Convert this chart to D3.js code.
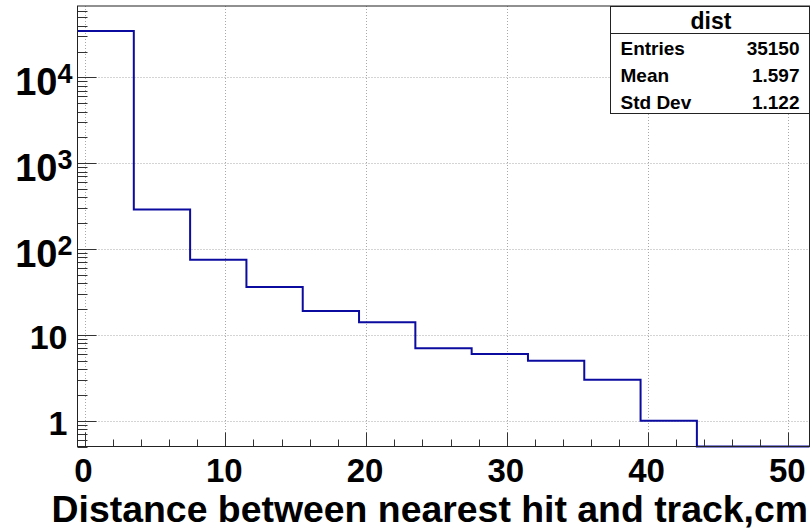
<!DOCTYPE html>
<html>
<head>
<meta charset="utf-8">
<script src="https://cdn.jsdelivr.net/npm/d3@7"></script>
<style>
  body { margin: 0; background: #fff; }
  svg { display: block; font-family: "Liberation Sans", Arial, Helvetica, sans-serif; font-weight: bold; }
</style>
</head>
<body>
<div id="graph-container"></div>
<script>

// histogram "dist": 13 bins of width 4 from -0.5 to 51.5
var bin_low = [-0.5, 3.5, 7.5, 11.5, 15.5, 19.5, 23.5, 27.5, 31.5, 35.5, 39.5, 43.5, 47.5];
var bin_width = 4;
var counts = [34696, 288, 75, 36, 19, 14, 7, 6, 5, 3, 1, 0, 0];

var x_ticks = [0, 10, 20, 30, 40, 50];
var x_minor = d3.range(0, 52, 2);
var y_decades = [0, 1, 2, 3, 4];   // 1, 10, 10^2, 10^3, 10^4

var stats_title = 'dist';
var stats_names = ['Entries', 'Mean', 'Std Dev'];
var stats_values = ['35150', '1.597', '1.122'];

var x_title = 'Distance between nearest hit and track,cm';

/////////////////////////////////////////////////////////////////////////////
                      ///////    Set Up Chart    ///////
/////////////////////////////////////////////////////////////////////////////

var W = 811, H = 530;
var frame = {left: 77.5, right: 809.5, top: 6, bottom: 446.5};

var svg = d3.select('#graph-container').append('svg').attr('width', W).attr('height', H);

var x = d3.scaleLinear().domain([-0.5, 51.5]).range([frame.left, frame.right]);
var y = d3.scaleLog().domain([0.5, 67870]).range([frame.bottom, frame.top]);

var grid_color = '#a8a8a8';

// grid lines
var grid = svg.append('g').attr('class', 'grid');
grid.selectAll('.gx').data(x_ticks).enter().append('line')
    .attr('x1', d => Math.round(x(d)) + 0.5).attr('x2', d => Math.round(x(d)) + 0.5)
    .attr('y1', frame.top).attr('y2', frame.bottom)
    .style('stroke', grid_color).style('stroke-dasharray', '1,2');
grid.selectAll('.gy').data(y_decades).enter().append('line')
    .attr('x1', frame.left).attr('x2', frame.right)
    .attr('y1', d => Math.round(y(Math.pow(10, d))) + 0.5).attr('y2', d => Math.round(y(Math.pow(10, d))) + 0.5)
    .style('stroke', grid_color).style('stroke-dasharray', '1,2');

// histogram as a step outline
var pts = [];
counts.forEach((c, i) => {
    var yy = c > 0 ? y(c) : frame.bottom;
    pts.push([x(bin_low[i]), yy]);
    pts.push([x(bin_low[i] + bin_width), yy]);
});
svg.append('path')
    .attr('d', d3.line()(pts))
    .style('fill', 'none')
    .style('stroke', '#0b0ba0')
    .style('stroke-width', 2);

// x ticks (inside the frame)
var axes = svg.append('g').style('stroke', '#333').style('stroke-width', 1);
axes.selectAll('.xt').data(x_minor).enter().append('line')
    .attr('x1', d => Math.round(x(d)) + 0.5).attr('x2', d => Math.round(x(d)) + 0.5)
    .attr('y1', frame.bottom).attr('y2', d => frame.bottom - (d % 10 === 0 ? 14 : 7));

// y ticks: decades plus 2..9 minors
var y_minor = [];
[-1, 0, 1, 2, 3, 4].forEach(e => d3.range(1, 10).forEach(m => {
    var v = m * Math.pow(10, e);
    if (v >= 0.5 && v <= 67870) y_minor.push({v: v, major: m === 1});
}));
axes.selectAll('.yt').data(y_minor).enter().append('line')
    .attr('x1', frame.left)
    .attr('x2', d => frame.left + (d.major ? 19 : 10))
    .attr('y1', d => Math.round(y(d.v)) + 0.5).attr('y2', d => Math.round(y(d.v)) + 0.5);

// frame
svg.append('rect')
    .attr('x', frame.left).attr('y', frame.top)
    .attr('width', frame.right - frame.left).attr('height', frame.bottom - frame.top)
    .style('fill', 'none').style('stroke', '#222').style('stroke-width', 1);

// x tick labels
svg.selectAll('.xl').data(x_ticks).enter().append('text')
    .attr('x', d => x(d) - 1).attr('y', 482)
    .style('font-size', '33px').style('text-anchor', 'middle')
    .text(d => d);

// y tick labels
y_decades.forEach(e => {
    var ty = y(Math.pow(10, e));
    if (e < 2) {
        svg.append('text')
            .attr('x', 67.5).attr('y', ty + 14.5)
            .style('font-size', '34px').style('text-anchor', 'end')
            .text(Math.pow(10, e));
    } else {
        svg.append('text')
            .attr('x', 57.5).attr('y', ty + 17.5)
            .style('font-size', '38px').style('text-anchor', 'end')
            .text('10');
        svg.append('text')
            .attr('x', 57.5).attr('y', ty + 6)
            .style('font-size', '27px').style('text-anchor', 'start')
            .text(e);
    }
});

// x axis title
svg.append('text')
    .attr('x', 808).attr('y', 521.5)
    .style('font-size', '37.4px').style('text-anchor', 'end')
    .text(x_title);

// stats box
var box = {x: 610.5, y: 6.5, w: 199, h: 107};
var stats = svg.append('g');
stats.append('rect')
    .attr('x', box.x).attr('y', box.y).attr('width', box.w).attr('height', box.h)
    .style('fill', '#fff').style('stroke', '#222').style('stroke-width', 1);
stats.append('line')
    .attr('x1', box.x).attr('x2', box.x + box.w).attr('y1', 33.5).attr('y2', 33.5)
    .style('stroke', '#222');
stats.append('text')
    .attr('x', box.x + box.w / 2 + 1).attr('y', 28.5)
    .style('font-size', '23px').style('text-anchor', 'middle')
    .text(stats_title);
stats_names.forEach((n, i) => {
    stats.append('text')
        .attr('x', 620.5).attr('y', 54.5 + i * 27)
        .style('font-size', '19px')
        .text(n);
    stats.append('text')
        .attr('x', 799.5).attr('y', 54.5 + i * 27)
        .style('font-size', '19px').style('text-anchor', 'end')
        .text(stats_values[i]);
});

</script>
</body>
</html>
